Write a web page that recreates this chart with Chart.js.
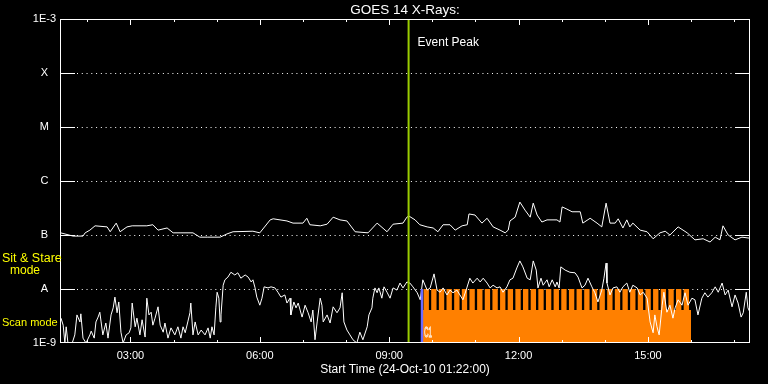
<!DOCTYPE html>
<html>
<head>
<meta charset="utf-8">
<title>GOES 14 X-Rays</title>
<script src="https://cdn.jsdelivr.net/npm/chart.js@4/dist/chart.umd.min.js"></script>
<style>
  html, body { margin: 0; padding: 0; background: #000; }
  canvas { display: block; }
</style>
</head>
<body>
<canvas id="goes" width="768" height="384"></canvas>
<script>
// times are hours of day (UT, 24-Oct-2010), flux values are log10(W/m^2)
const longHours = [1.38, 1.67, 1.90, 1.95, 2.06, 2.18, 2.46, 2.53, 2.67, 2.76, 2.92, 3.04, 3.38, 3.52, 3.64, 3.85, 3.99, 4.15, 4.45, 4.61,
  4.78, 5.08, 5.24, 5.38, 5.84, 6.00, 6.24, 6.31, 6.63, 6.77, 7.00, 7.09, 7.16, 7.40, 7.56, 7.70, 7.86, 8.02, 8.21, 8.51,
  8.72, 8.95, 9.09, 9.32, 9.41, 9.46, 9.60, 9.71, 9.88, 10.02, 10.13, 10.25, 10.41, 10.53, 10.69, 10.81, 10.85, 10.99, 11.15, 11.27,
  11.41, 11.57, 11.69, 11.76, 11.80, 11.92, 12.03, 12.15, 12.27, 12.34, 12.43, 12.54, 12.66, 12.89, 12.96, 13.01, 13.12, 13.24, 13.43, 13.49,
  13.66, 13.82, 13.93, 14.03, 14.12, 14.24, 14.31, 14.42, 14.51, 14.58, 14.65, 14.82, 14.98, 15.12, 15.28, 15.40, 15.51, 15.70, 15.91, 16.09,
  16.28, 16.44, 16.56, 16.67, 16.74, 16.86, 17.02, 17.18, 17.37];
const longLog = [-6.96, -7.02, -7.02, -6.96, -6.91, -6.83, -6.85, -6.94, -6.78, -6.94, -6.85, -6.83, -6.83, -6.81, -6.91, -6.87, -6.96, -6.96, -6.96, -7.04,
  -7.04, -7.04, -6.98, -6.94, -6.93, -6.96, -6.72, -6.70, -6.74, -6.78, -6.78, -6.69, -6.81, -6.83, -6.80, -6.67, -6.72, -6.74, -6.94, -6.96,
  -6.78, -6.94, -6.80, -6.78, -6.67, -6.65, -6.72, -6.81, -6.85, -6.87, -6.94, -6.81, -6.81, -6.91, -6.83, -6.81, -6.61, -6.63, -6.78, -6.69,
  -6.85, -6.91, -6.96, -6.91, -6.74, -6.67, -6.39, -6.54, -6.67, -6.41, -6.63, -6.76, -6.72, -6.72, -6.76, -6.48, -6.52, -6.57, -6.57, -6.78,
  -6.69, -6.78, -6.85, -6.41, -6.78, -6.78, -6.70, -6.87, -6.72, -6.85, -6.78, -6.91, -6.94, -7.07, -6.96, -6.93, -7.00, -6.85, -6.96, -7.09,
  -7.07, -7.13, -7.04, -7.09, -6.83, -7.00, -7.09, -7.04, -7.06];

const shortHours = [1.39, 1.44, 1.48, 1.51, 1.55, 1.65, 1.71, 1.76, 1.83, 1.85, 1.90, 1.97, 2.06, 2.09, 2.16, 2.20, 2.25, 2.29, 2.32, 2.36,
  2.43, 2.48, 2.55, 2.60, 2.64, 2.69, 2.73, 2.78, 2.83, 2.90, 2.97, 3.01, 3.04, 3.06, 3.11, 3.15, 3.22, 3.27, 3.34, 3.38,
  3.43, 3.48, 3.52, 3.57, 3.64, 3.69, 3.76, 3.80, 3.87, 3.94, 4.03, 4.10, 4.17, 4.22, 4.27, 4.33, 4.38, 4.40, 4.45, 4.50,
  4.57, 4.64, 4.73, 4.80, 4.85, 4.89, 4.94, 4.98, 5.01, 5.05, 5.08, 5.10, 5.15, 5.19, 5.26, 5.33, 5.42, 5.49, 5.56, 5.66,
  5.73, 5.80, 5.84, 5.89, 5.93, 6.00, 6.05, 6.10, 6.19, 6.26, 6.35, 6.42, 6.49, 6.58, 6.63, 6.70, 6.72, 6.79, 6.84, 6.89,
  6.98, 7.05, 7.12, 7.19, 7.23, 7.28, 7.33, 7.40, 7.44, 7.47, 7.56, 7.63, 7.70, 7.79, 7.86, 7.91, 7.95, 8.02, 8.09, 8.16,
  8.25, 8.32, 8.39, 8.49, 8.53, 8.60, 8.62, 8.67, 8.72, 8.76, 8.83, 8.88, 8.95, 9.02, 9.09, 9.18, 9.25, 9.32, 9.41, 9.48,
  9.55, 9.65, 9.72, 9.78, 9.88, 9.95, 10.04, 10.11, 10.18, 10.25, 10.34, 10.41, 10.48, 10.57, 10.64, 10.71, 10.80, 10.87, 10.94, 11.04,
  11.11, 11.18, 11.27, 11.34, 11.41, 11.50, 11.57, 11.64, 11.73, 11.80, 11.87, 11.96, 12.03, 12.10, 12.20, 12.27, 12.34, 12.41, 12.45, 12.52,
  12.57, 12.66, 12.71, 12.78, 12.85, 12.89, 12.94, 12.98, 13.08, 13.19, 13.31, 13.38, 13.47, 13.54, 13.61, 13.70, 13.77, 13.84, 13.93, 13.98,
  14.03, 14.05, 14.12, 14.19, 14.28, 14.35, 14.42, 14.51, 14.58, 14.65, 14.75, 14.82, 14.89, 14.98, 15.05, 15.12, 15.16, 15.21, 15.26, 15.33,
  15.37, 15.44, 15.51, 15.58, 15.63, 15.70, 15.79, 15.86, 15.93, 16.02, 16.09, 16.16, 16.25, 16.32, 16.39, 16.48, 16.56, 16.63, 16.72, 16.79,
  16.86, 16.95, 17.02, 17.09, 17.16, 17.21, 17.28, 17.32, 17.37];
const shortLog = [-8.54, -8.67, -9.00, -8.70, -9.00, -9.00, -8.85, -8.48, -8.61, -8.46, -8.91, -9.00, -8.85, -8.78, -8.91, -8.61, -8.52, -8.43, -8.61, -8.85,
  -8.63, -8.91, -8.48, -8.35, -8.15, -8.44, -8.24, -8.80, -9.00, -8.85, -8.81, -8.72, -8.26, -8.39, -8.70, -8.54, -8.85, -8.57, -8.89, -8.17,
  -8.48, -8.43, -8.67, -8.54, -8.33, -8.67, -8.80, -8.63, -8.91, -8.72, -8.85, -8.70, -8.91, -8.70, -8.81, -8.61, -8.44, -8.26, -8.85, -8.61,
  -8.85, -8.76, -8.85, -8.72, -8.91, -8.70, -8.85, -8.35, -8.06, -8.17, -8.61, -8.48, -7.93, -7.83, -7.78, -7.69, -7.74, -7.70, -7.80, -7.74,
  -7.78, -7.87, -7.83, -7.98, -8.15, -8.30, -8.17, -7.96, -7.98, -7.96, -7.98, -8.06, -8.15, -8.11, -8.26, -8.17, -8.48, -8.24, -8.35, -8.26,
  -8.52, -8.30, -8.44, -8.61, -8.39, -8.94, -8.61, -8.17, -8.30, -8.61, -8.48, -8.63, -8.33, -8.44, -8.35, -8.07, -8.61, -8.76, -8.85, -8.94,
  -9.00, -8.80, -8.94, -8.70, -8.48, -8.35, -8.17, -7.98, -8.07, -7.98, -8.17, -7.96, -8.06, -8.17, -7.98, -8.02, -7.89, -7.98, -7.87, -7.89,
  -7.96, -8.07, -8.20, -7.83, -8.02, -7.98, -7.72, -8.02, -8.06, -7.98, -8.11, -8.02, -8.07, -8.02, -8.11, -8.20, -7.98, -7.80, -7.89, -7.80,
  -7.87, -7.80, -7.89, -7.98, -7.93, -7.98, -7.96, -8.06, -7.96, -7.83, -7.80, -7.61, -7.48, -7.59, -7.80, -7.83, -7.48, -7.65, -7.98, -7.80,
  -7.93, -7.83, -7.96, -7.83, -7.96, -7.87, -7.98, -7.59, -7.65, -7.69, -7.70, -7.78, -7.98, -7.93, -7.80, -7.96, -8.07, -8.24, -8.02, -7.80,
  -7.52, -7.89, -8.11, -7.98, -7.96, -8.06, -7.96, -7.89, -8.06, -7.93, -7.98, -8.11, -8.06, -8.17, -8.61, -8.81, -8.48, -8.70, -8.85, -8.30,
  -8.06, -8.43, -8.30, -8.54, -8.35, -8.20, -8.30, -8.07, -8.30, -8.17, -8.20, -8.48, -8.17, -8.07, -8.15, -8.07, -7.96, -8.06, -7.89, -8.11,
  -8.02, -8.33, -8.11, -8.26, -8.52, -8.44, -8.06, -8.35, -8.44];

// observing mode: raster start times inside the sit & stare period
const peakHour = 9.45;
const modeStart = 9.76;
const modeEnd = 16.0;
const scanTopLog = -8.39;
const stareTopLog = -8.0;
const rasterHours = [9.859, 10.036, 10.214, 10.391, 10.569, 10.746, 10.923, 11.101, 11.278, 11.456, 11.633, 11.810, 11.988, 12.165, 12.343,
  12.520, 12.697, 12.875, 13.052, 13.230, 13.407, 13.584, 13.762, 13.939, 14.117, 14.294, 14.471, 14.649, 14.826, 15.004,
  15.181, 15.358, 15.536, 15.713, 15.891];

const yTickLog = [-9, -8, -7, -6, -5, -4, -3];
const yTickLabels = ['1E-9', 'A', 'B', 'C', 'M', 'X', '1E-3'];
const hourTicks = [2, 3, 4, 5, 6, 7, 8, 9, 10, 11, 12, 13, 14, 15, 16, 17];
const labelHours = [3, 6, 9, 12, 15];
const labelTexts = ['03:00', '06:00', '09:00', '12:00', '15:00'];

const startHour = 1 + 22 / 60;
const FONT = 'Liberation Sans';

function series(hours, logs) {
    return hours.map((h, i) => ({ x: h, y: Math.pow(10, logs[i]) }));
}

const framePlugin = {
    id: 'frame',
    beforeDatasetsDraw(chart) {
        const { ctx, chartArea: a, scales: { y } } = chart;
        ctx.save();
        ctx.strokeStyle = '#fff';
        ctx.lineWidth = 1;
        yTickLog.slice(1, -1).forEach(e => {
            const py = Math.round(y.getPixelForValue(Math.pow(10, e))) + 0.5;
            ctx.setLineDash([]);
            ctx.beginPath();
            ctx.moveTo(a.left, py); ctx.lineTo(a.left + 15, py);
            ctx.moveTo(a.right - 15, py); ctx.lineTo(a.right, py);
            ctx.stroke();
            ctx.setLineDash([1, 3.77]);
            ctx.beginPath();
            ctx.moveTo(a.left + 17, py); ctx.lineTo(a.right - 15, py);
            ctx.stroke();
        });
        ctx.restore();
    },
    afterDatasetsDraw(chart) {
        const { ctx, chartArea: a, scales: { x } } = chart;
        ctx.save();
        ctx.strokeStyle = '#fff';
        ctx.lineWidth = 1;
        ctx.strokeRect(Math.round(a.left) + 0.5, Math.round(a.top) + 0.5,
            Math.round(a.right - a.left) - 1, Math.round(a.bottom - a.top) - 1);
        ctx.beginPath();
        hourTicks.forEach(h => {
            const px = Math.round(x.getPixelForValue(h)) + 0.5;
            const len = labelHours.includes(h) ? 6 : 3;
            ctx.moveTo(px, a.bottom); ctx.lineTo(px, a.bottom - len);
            ctx.moveTo(px, a.top); ctx.lineTo(px, a.top + len);
        });
        ctx.stroke();

        ctx.fillStyle = '#fff';
        ctx.textBaseline = 'middle';
        ctx.textAlign = 'center';
        ctx.font = '13.5px "' + FONT + '"';
        ctx.fillText('GOES 14 X-Rays:', (a.left + a.right) / 2, 10);
        ctx.font = '12px "' + FONT + '"';
        ctx.fillText('Start Time (24-Oct-10 01:22:00)', (a.left + a.right) / 2, 370);
        ctx.textAlign = 'left';
        ctx.fillText('Event Peak', x.getPixelForValue(peakHour) + 9, 43);

        // raster label next to the mode change
        ctx.lineWidth = 0.8;
        ctx.font = '14px "' + FONT + '"';
        ctx.strokeText('C1', x.getPixelForValue(modeStart) + 2, 333, 8);

        ctx.fillStyle = '#ffff00';
        ctx.font = '12.5px "' + FONT + '"';
        ctx.fillText('Sit & Stare', 2, 259);
        ctx.textAlign = 'center';
        ctx.font = '12px "' + FONT + '"';
        ctx.fillText('mode', 25, 271);
        ctx.textAlign = 'left';
        ctx.font = '11px "' + FONT + '"';
        ctx.fillText('Scan mode', 2, 323);
        ctx.restore();
    }
};

const canvas = document.getElementById('goes');
const ctx = canvas.getContext('2d');
const goesChart = new Chart(ctx, {
    type: 'line',
    data: {
        datasets: [{
            label: 'Event Peak',
            data: [{ x: peakHour, y: 1e-9 }, { x: peakHour, y: 1e-3 }],
            borderColor: '#9acd00',
            borderWidth: 2,
            order: 0
        }, {
            label: 'Mode start',
            data: [{ x: modeStart, y: 1e-9 }, { x: modeStart, y: Math.pow(10, stareTopLog) }],
            borderColor: '#6b6bff',
            borderWidth: 2.4,
            order: 1
        }, {
            label: '1-8 A',
            data: series(longHours, longLog),
            borderColor: '#fff',
            borderWidth: 1,
            order: 2
        }, {
            label: '0.5-4 A',
            data: series(shortHours, shortLog),
            borderColor: '#fff',
            borderWidth: 1,
            order: 3
        }, {
            type: 'bar',
            label: 'Sit & Stare',
            data: rasterHours.map(h => ({ x: h, y: [1e-9, Math.pow(10, stareTopLog)] })),
            backgroundColor: '#ff8000',
            borderWidth: 0,
            barPercentage: 0.7,
            categoryPercentage: 1,
            order: 4
        }, {
            label: 'Scan',
            data: [{ x: modeStart, y: Math.pow(10, scanTopLog) }, { x: modeEnd, y: Math.pow(10, scanTopLog) }],
            borderWidth: 0,
            borderColor: 'rgba(0,0,0,0)',
            backgroundColor: '#ff8000',
            fill: 'start',
            order: 5
        }]
    },
    options: {
        responsive: false,
        animation: false,
        events: [],
        devicePixelRatio: 1,
        layout: { padding: { top: 19, right: 18, left: 0, bottom: 0 } },
        elements: { point: { radius: 0 }, line: { tension: 0 } },
        plugins: { legend: { display: false }, tooltip: { enabled: false } },
        scales: {
            x: {
                type: 'linear',
                min: startHour,
                max: startHour + 16,
                offset: false,
                grid: { display: false, drawTicks: false },
                border: { display: false },
                afterBuildTicks: s => { s.ticks = hourTicks.map(v => ({ value: v })); },
                afterFit: s => { s.height = 41; },
                ticks: {
                    autoSkip: false,
                    maxRotation: 0,
                    padding: 6,
                    color: '#fff',
                    font: { family: FONT, size: 11 },
                    callback: v => {
                        const i = labelHours.indexOf(v);
                        return i >= 0 ? labelTexts[i] : '';
                    }
                }
            },
            y: {
                type: 'logarithmic',
                min: 1e-9,
                max: 1e-3,
                grid: { display: false, drawTicks: false },
                border: { display: false },
                afterBuildTicks: s => { s.ticks = yTickLog.map(e => ({ value: Math.pow(10, e) })); },
                afterFit: s => { s.width = 60; },
                ticks: {
                    crossAlign: 'center',
                    padding: 4,
                    color: '#fff',
                    font: { family: FONT, size: 11 },
                    callback: (v, i) => yTickLabels[i]
                }
            }
        }
    },
    plugins: [framePlugin]
});
</script>
</body>
</html>
